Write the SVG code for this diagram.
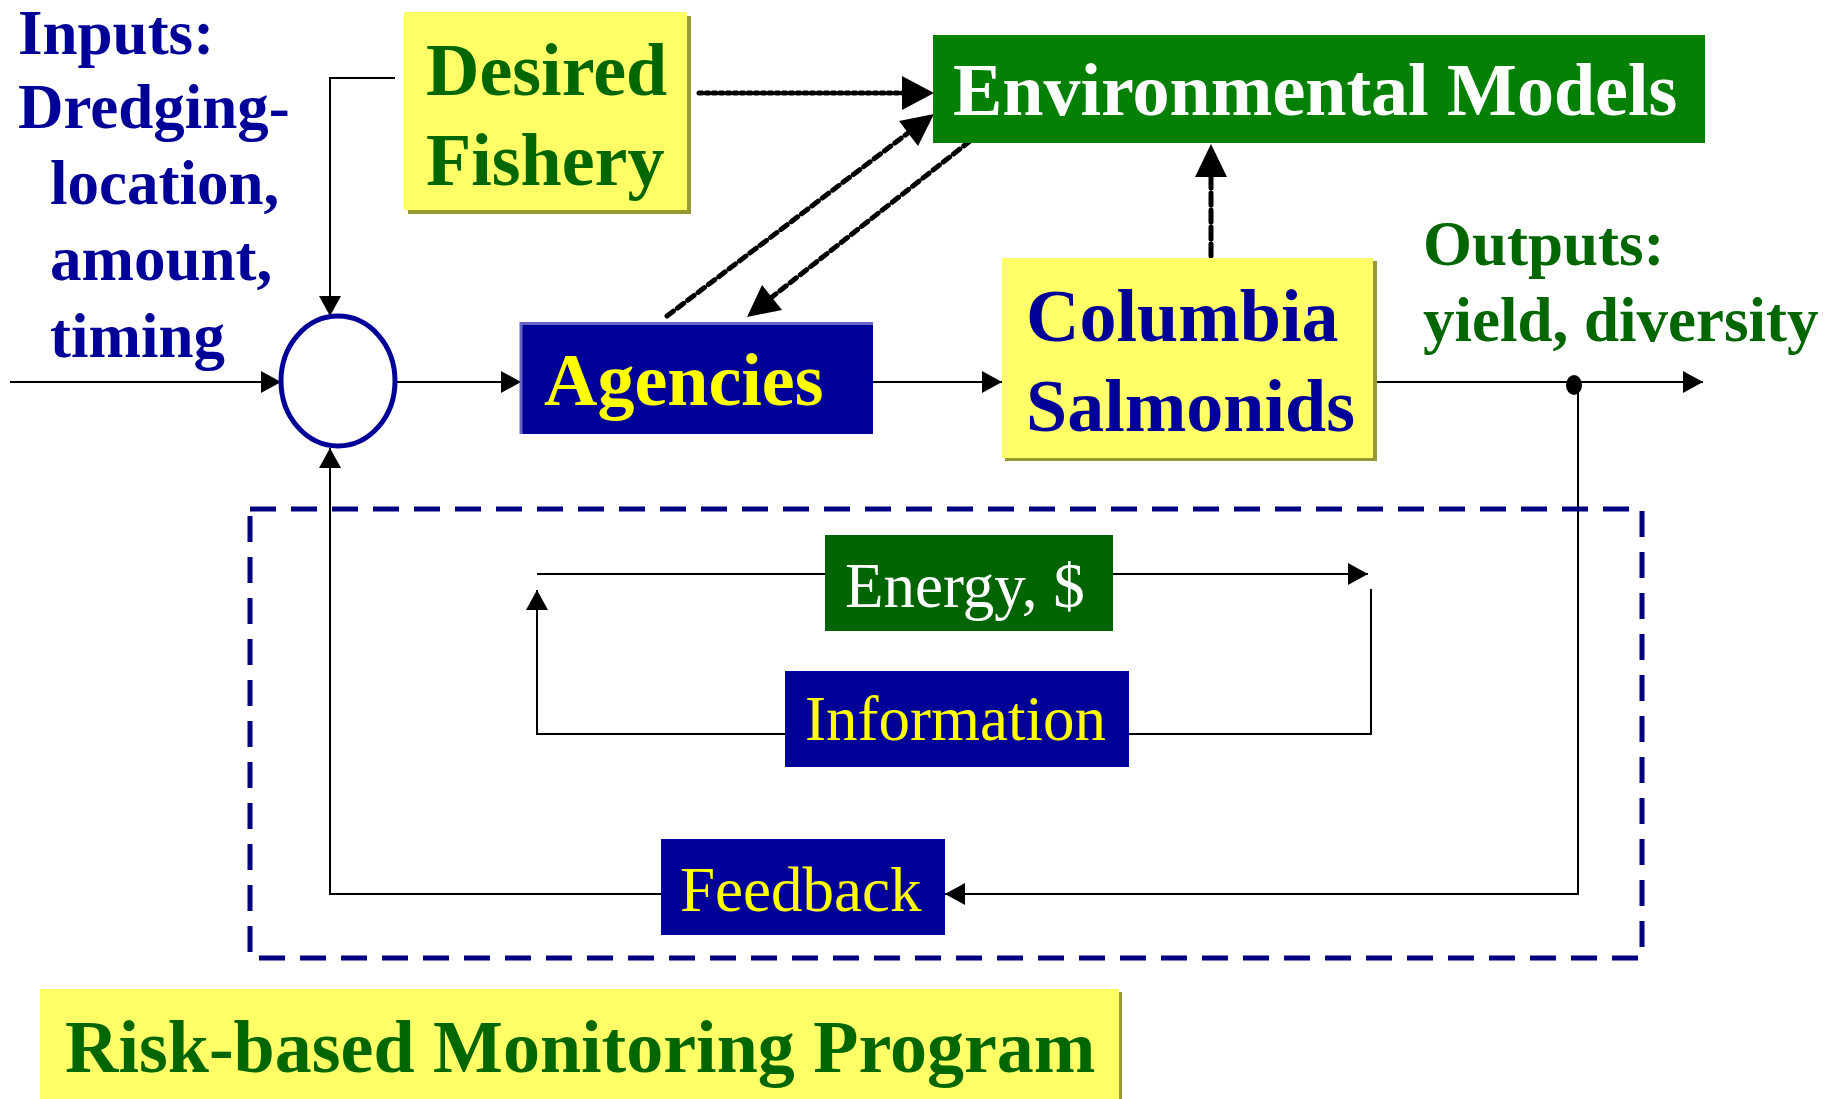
<svg xmlns="http://www.w3.org/2000/svg" width="1838" height="1099" viewBox="0 0 1838 1099">
<style>
.bold{font-family:"Liberation Serif","Times New Roman",serif;font-weight:bold}
.reg{font-family:"Liberation Serif","Times New Roman",serif}
.ln{fill:none;stroke:#000;stroke-width:2}
.dash{fill:none;stroke:#000;stroke-width:5;stroke-linecap:round}
</style>
<defs>
<marker id="a" markerUnits="userSpaceOnUse" markerWidth="20" markerHeight="22" refX="20" refY="11" orient="auto"><path d="M0,0 L20,11 L0,22 z" fill="#000"/></marker>
</defs>
<rect width="1838" height="1099" fill="#fff"/>

<g id="connectors">
<path class="ln" d="M10,382 L281,382" marker-end="url(#a)"/>
<path class="ln" d="M395,382 L521,382" marker-end="url(#a)"/>
<path class="ln" d="M873,382 L1002,382" marker-end="url(#a)"/>
<path class="ln" d="M1373,382 L1703,382" marker-end="url(#a)"/>
<path class="ln" d="M395,78 L330,78 L330,316" marker-end="url(#a)"/>
<path class="ln" d="M1578,384 L1578,894 L945,894" marker-end="url(#a)"/>
<path class="ln" d="M661,894 L330,894 L330,448" marker-end="url(#a)"/>
<ellipse cx="1574" cy="385" rx="8" ry="10" fill="#000"/>
<path class="ln" d="M537,574 L825,574"/>
<path class="ln" d="M1113,574 L1368,574" marker-end="url(#a)"/>
<path class="ln" d="M785,734 L537,734 L537,590" marker-end="url(#a)"/>
<path class="ln" d="M1129,734 L1371,734 L1371,589"/>
<path class="dash" d="M699,93 L904,93" stroke-dasharray="3 4"/>
<path d="M902,76 L934,93 L902,110 z" fill="#000"/>
<path class="dash" d="M667,316 L908,133" stroke-dasharray="8 5"/>
<path d="M934,114 L918,146 L899,121 z" fill="#000"/>
<path class="dash" d="M970,141 L772,297" stroke-dasharray="8 5"/>
<path d="M747,317 L782,310 L762,285 z" fill="#000"/>
<path class="dash" d="M1211,256 L1211,175" stroke-dasharray="12 5"/>
<path d="M1211,144 L1195,177 L1227,177 z" fill="#000"/>
</g>

<g id="monitoring-frame">
<rect x="250" y="509" width="1392" height="449" fill="none" stroke="#000080" stroke-width="5" stroke-dasharray="26 15"/>
</g>

<g id="inputs">
<text class="bold" font-size="63" fill="#000099"><tspan x="18" y="54">Inputs:</tspan><tspan x="18" y="128">Dredging-</tspan><tspan x="50" y="204">location,</tspan><tspan x="50" y="280">amount,</tspan><tspan x="50" y="357">timing</tspan></text>
</g>

<g id="sum">
<ellipse cx="338" cy="381" rx="57" ry="65" fill="#fff" stroke="#000099" stroke-width="5"/>
</g>

<g id="desired-fishery">
<rect x="408" y="16" width="283" height="198" fill="#999933"/>
<rect x="404" y="12" width="283" height="198" fill="#ffff66"/>
<text class="bold" font-size="74" fill="#006600"><tspan x="426" y="95">Desired</tspan><tspan x="426" y="185">Fishery</tspan></text>
</g>

<g id="environmental-models">
<rect x="933" y="35" width="772" height="108" fill="#048004"/>
<text class="bold" font-size="74" fill="#fff" x="953" y="115">Environmental Models</text>
</g>

<g id="agencies">
<rect x="521" y="322" width="352" height="112" fill="#000099"/>
<path d="M521,434 L521,323.5 L873,323.5" fill="none" stroke="#6666c4" stroke-width="3"/>
<text class="bold" font-size="74" fill="#ffff00" x="544" y="405">Agencies</text>
</g>

<g id="columbia-salmonids">
<rect x="1005" y="261" width="372" height="200" fill="#999933"/>
<rect x="1002" y="258" width="371" height="200" fill="#ffff66"/>
<text class="bold" font-size="74" fill="#000099"><tspan x="1026" y="341">Columbia</tspan><tspan x="1026" y="431">Salmonids</tspan></text>
</g>

<g id="outputs">
<text class="bold" font-size="63" fill="#006600"><tspan x="1423" y="265">Outputs:</tspan><tspan x="1423" y="341">yield, diversity</tspan></text>
</g>

<g id="energy">
<rect x="825" y="535" width="288" height="96" fill="#006400"/>
<text class="reg" font-size="63" fill="#fff" x="845" y="607">Energy, $</text>
</g>

<g id="information">
<rect x="785" y="671" width="344" height="96" fill="#000099"/>
<text class="reg" font-size="63" fill="#ffff00" x="805" y="740">Information</text>
</g>

<g id="feedback">
<rect x="661" y="839" width="284" height="96" fill="#000099"/>
<text class="reg" font-size="63" fill="#ffff00" x="680" y="911">Feedback</text>
</g>

<g id="risk-based">
<rect x="43" y="992" width="1079" height="110" fill="#999933"/>
<rect x="40" y="989" width="1079" height="110" fill="#ffff66"/>
<text class="bold" font-size="74" fill="#006600" x="65" y="1072">Risk-based Monitoring Program</text>
</g>
</svg>
